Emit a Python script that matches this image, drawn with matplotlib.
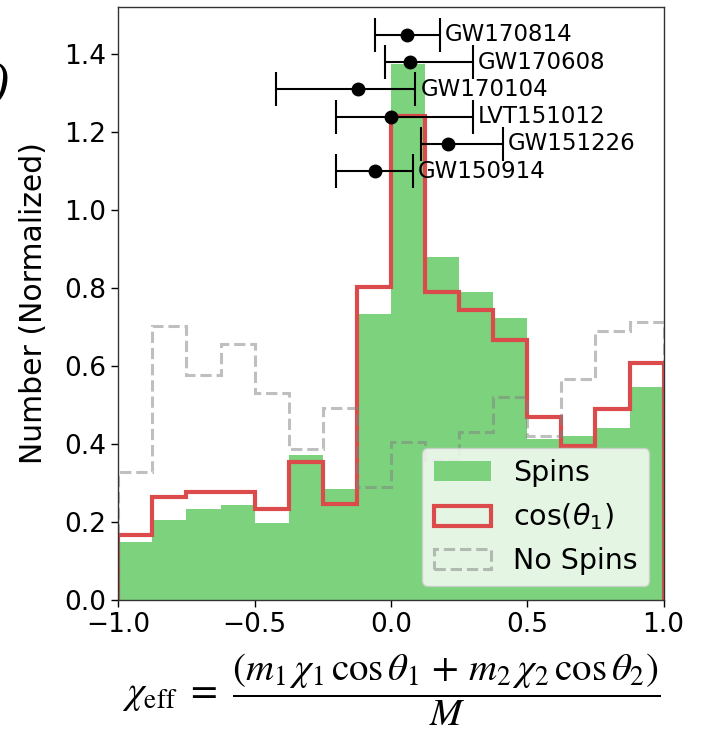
#!/usr/bin/env python3
"""Effective spin distribution: Spins / cos(theta_1) / No Spins histograms with GW events."""

import matplotlib

matplotlib.use("Agg")
import matplotlib.pyplot as plt
import numpy as np

# 16 bins over chi_eff in [-1, 1]
BIN_EDGES = np.linspace(-1.0, 1.0, 17)

SPINS = [0.149, 0.207, 0.235, 0.245, 0.199, 0.372, 0.285, 0.734,
         1.375, 0.879, 0.791, 0.723, 0.413, 0.421, 0.441, 0.548]
COS_THETA1 = [0.167, 0.266, 0.277, 0.277, 0.234, 0.354, 0.247, 0.803,
              1.243, 0.791, 0.744, 0.667, 0.469, 0.396, 0.490, 0.608]
NO_SPINS = [0.330, 0.704, 0.578, 0.656, 0.531, 0.388, 0.492, 0.291,
            0.407, 0.360, 0.432, 0.522, 0.420, 0.567, 0.691, 0.714]

EVENTS = ["GW170814", "GW170608", "GW170104", "LVT151012", "GW151226", "GW150914"]
EVENT_CHI = [0.06, 0.07, -0.12, 0.00, 0.21, -0.06]
EVENT_LO = [0.12, 0.09, 0.30, 0.20, 0.10, 0.14]
EVENT_HI = [0.12, 0.23, 0.21, 0.30, 0.20, 0.14]
EVENT_Y = [1.45, 1.38, 1.31, 1.24, 1.17, 1.10]

GREEN = "#7dd27d"
RED = "#dc4b4b"


def main():
    fig = plt.figure(figsize=(7.04, 7.38), dpi=100)
    ax = fig.add_axes([0.168, 0.1866, 0.7746, 0.8043])

    centers = 0.5 * (BIN_EDGES[:-1] + BIN_EDGES[1:])
    ax.hist(centers, bins=BIN_EDGES, weights=SPINS, histtype="stepfilled",
            color=GREEN, label="Spins")
    ax.hist(centers, bins=BIN_EDGES, weights=COS_THETA1, histtype="step",
            color=RED, lw=3, label=r"cos($\theta_1$)")
    ax.hist(centers, bins=BIN_EDGES, weights=NO_SPINS, histtype="step",
            color="gray", alpha=0.5, lw=2.2, ls="--", label="No Spins")

    ax.errorbar(EVENT_CHI, EVENT_Y, xerr=[EVENT_LO, EVENT_HI], fmt="o", color="k",
                ms=9, elinewidth=1.5, capsize=12, capthick=1.5)
    for name, x, hi, y in zip(EVENTS, EVENT_CHI, EVENT_HI, EVENT_Y):
        ax.text(x + hi + 0.018, y, name, fontsize=16.5, va="center", ha="left")

    ax.set_xlim(-1.0, 1.0)
    ax.set_ylim(0.0, 1.522)
    ax.set_xticks([-1.0, -0.5, 0.0, 0.5, 1.0])
    ax.set_yticks(np.arange(0.0, 1.41, 0.2))
    ax.tick_params(labelsize=19, length=5, width=1.0)
    ax.set_ylabel("Number (Normalized)", fontsize=21.5, labelpad=12)
    ax.set_xlabel(r"$\chi_{\mathrm{eff}}\ =\ \dfrac{(m_1\,\chi_1\,\cos\theta_1\,+\,m_2\,\chi_2\,\cos\theta_2)}{M}$",
                  fontsize=28, math_fontfamily="stix", labelpad=10)
    for sp in ax.spines.values():
        sp.set_linewidth(1.0)
        sp.set_color("#333333")

    ax.legend(loc="lower right", fontsize=20.5, framealpha=0.8)

    # cropped panel label remnant at the top-left edge
    fig.text(-0.012, 1 - 86 / 738, ")", fontsize=34, va="center", ha="left",
             family="DejaVu Serif", style="italic")

    fig.savefig("out.png", dpi=100)


if __name__ == "__main__":
    main()
